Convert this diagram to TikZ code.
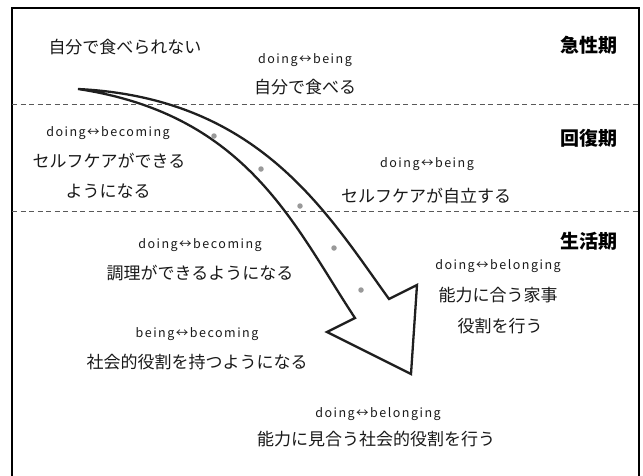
\documentclass[tikz,border=0pt]{standalone}
\usepackage{fontspec}
\setmainfont{Noto Sans CJK JP}
\newfontfamily\latlbl[LetterSpace=12]{Noto Sans CJK JP}
\begin{document}
\begin{tikzpicture}[x=1pt,y=-1pt,
  jp/.style={font=\fontsize{17}{20}\selectfont, inner sep=0pt, text=black!90},
  en/.style={font=\fontsize{12.5}{15}\selectfont\latlbl, inner sep=0pt, text=black!90},
  phase/.style={font=\fontsize{19}{22}\selectfont\bfseries, inner sep=0pt},
  sepline/.style={dash pattern=on 5pt off 3.5pt, line width=0.9pt, draw=black!65},
  cdot/.style={circle, fill=black!40, inner sep=0pt, minimum size=5.5pt},
  bigarrow/.style={line width=2.3pt, draw=black!88, line join=miter, miter limit=3}]
\useasboundingbox (0,0) rectangle (643,475);
% frame
\draw[line width=1.6pt] (12,495) -- (12,8) -- (639,8) -- (639,495);
% phase separators
\coordinate (s1l) at (12,104); \coordinate (s1r) at (639,104);
\coordinate (s2l) at (12,211); \coordinate (s2r) at (639,211);
\draw[sepline] (s1l) -- (s1r);
\draw[sepline] (s2l) -- (s2r);
% big curved arrow
\coordinate (tail) at (78,89);
\coordinate (hr) at (389,299);
\coordinate (hrc) at (417,285);
\coordinate (tip) at (411,374);
\coordinate (hlc) at (327,332);
\coordinate (hl) at (355,318);
\draw[bigarrow] (tail) .. controls (258,98) and (325,210) .. (hr)
  -- (hrc) -- (tip) -- (hlc) -- (hl)
  .. controls (294.5,226.7) and (248,114.5) .. cycle;
% dots
\node[cdot] (d1) at (214,136) {};
\node[cdot] (d2) at (261,169) {};
\node[cdot] (d3) at (300,206) {};
\node[cdot] (d4) at (334,248) {};
\node[cdot] (d5) at (361,290) {};
% phase labels
\node[phase] (p1) at (589,45) {急性期};
\node[phase] (p2) at (589,138) {回復期};
\node[phase] (p3) at (589,241) {生活期};
% texts
\node[jp] (t0) at (125,47) {自分で食べられない};
\node[en] (e1) at (305,60) {doing↔being};
\node[jp] (t1) at (305,87) {自分で食べる};
\node[en] (e2) at (108,133) {doing↔becoming};
\node[jp] (t2a) at (109,161) {セルフケアができる};
\node[jp] (t2b) at (108,191) {ようになる};
\node[en] (e3) at (427,164) {doing↔being};
\node[jp] (t3) at (426,196) {セルフケアが自立する};
\node[en] (e4) at (200,245) {doing↔becoming};
\node[jp] (t4) at (200,273) {調理ができるようになる};
\node[en] (e5) at (498,266) {doing↔belonging};
\node[jp] (t5a) at (498,295) {能力に合う家事};
\node[jp] (t5b) at (500,326) {役割を行う};
\node[en] (e6) at (197,334) {being↔becoming};
\node[jp] (t6) at (197,362) {社会的役割を持つようになる};
\node[en] (e7) at (378,414) {doing↔belonging};
\node[jp] (t7) at (376,439) {能力に見合う社会的役割を行う};
\end{tikzpicture}
\end{document}
